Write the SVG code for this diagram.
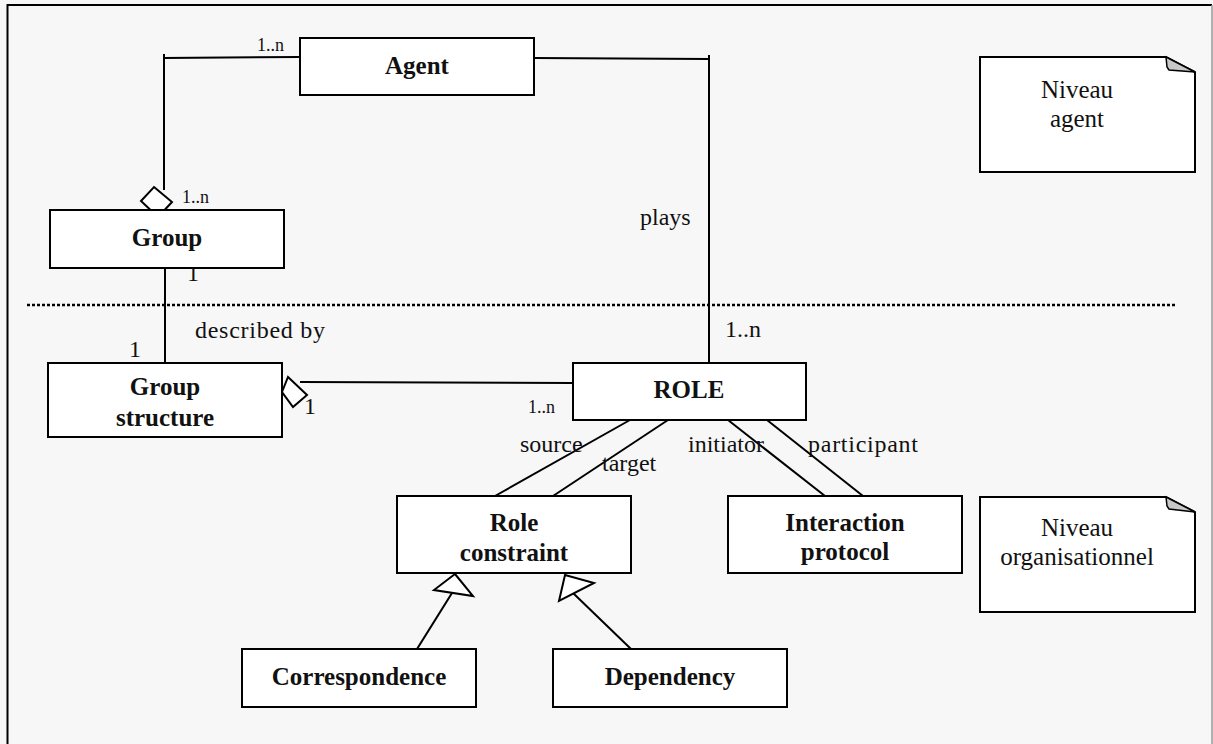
<svg xmlns="http://www.w3.org/2000/svg" width="1213" height="744" viewBox="0 0 1213 744">
<style>
text{font-family:"Liberation Serif","Times New Roman",Tinos,Times,"DejaVu Serif",serif;fill:#111}
.box{fill:#fff;stroke:#000;stroke-width:2}
.lbl{font-weight:bold;font-size:25px;text-anchor:middle}
.t{font-size:24px}
.s{font-size:18px}
.c{fill:none;stroke:#000;stroke-width:2}
.dia{fill:#fff;stroke:#000;stroke-width:2}
.fold{fill:#c8c8c8;stroke:#000;stroke-width:1.5}
.nt{font-size:25px;text-anchor:middle}
</style>
<rect x="0" y="0" width="1213" height="744" fill="#f7f7f7"/>
<path d="M7.5,750 V5 H1212" fill="none" stroke="#000" stroke-width="2"/>
<line x1="1212" y1="5" x2="1212" y2="744" stroke="#999" stroke-width="1.5"/>
<line x1="27" y1="305" x2="1176" y2="305" stroke="#000" stroke-width="2.5" stroke-dasharray="3 2"/>

<g id="connectors">
<polyline class="c" points="300,57 164,58 164,190"/>
<line class="c" x1="164" y1="54" x2="164" y2="60"/>
<polygon class="dia" points="154,187 172,202 158,217 141,201"/>
<line class="c" x1="165" y1="268" x2="165" y2="363"/>
<polyline class="c" points="534,58 709,59 709,363"/>
<line class="c" x1="709" y1="55" x2="709" y2="60"/>
<line class="c" x1="300" y1="382" x2="573" y2="383"/>
<polygon class="dia" points="282,392 288,377 307,395 293,407"/>
<line class="c" x1="630" y1="420" x2="495" y2="496"/>
<line class="c" x1="668" y1="420" x2="553" y2="496"/>
<line class="c" x1="728" y1="420" x2="825" y2="496"/>
<line class="c" x1="767" y1="420" x2="863" y2="496"/>
<line class="c" x1="452" y1="593" x2="417" y2="649"/>
<polygon class="dia" points="455,574 434,590 473,596"/>
<line class="c" x1="573" y1="593" x2="631" y2="649"/>
<polygon class="dia" points="565,575 594,583 559,601"/>
<text class="s" x="257" y="51">1..n</text>
<text class="s" x="182" y="203">1..n</text>
<text class="t" x="640" y="225">plays</text>
<text class="t" x="187" y="281">1</text>
<text class="t" x="195" y="338" textLength="130">described by</text>
<text class="t" x="129" y="357">1</text>
<text class="t" x="725" y="337">1..n</text>
<text class="t" x="304" y="414">1</text>
<text class="s" x="528" y="413">1..n</text>
<text class="t" x="520" y="452">source</text>
<text class="t" x="602" y="471">target</text>
<text class="t" x="688" y="452">initiator</text>
<text class="t" x="808" y="452" textLength="110">participant</text>
</g>

<g id="agent"><rect class="box" x="300" y="38" width="234" height="57"/><text class="lbl" x="417" y="74">Agent</text></g>
<g id="group"><rect class="box" x="50" y="210" width="234" height="58"/><text class="lbl" x="167" y="246">Group</text></g>
<g id="group-structure"><rect class="box" x="48" y="363" width="234" height="74"/><text class="lbl" x="165" y="395">Group</text><text class="lbl" x="165" y="426">structure</text></g>
<g id="role"><rect class="box" x="573" y="363" width="233" height="57"/><text class="lbl" x="689" y="398">ROLE</text></g>
<g id="role-constraint"><rect class="box" x="397" y="496" width="234" height="77"/><text class="lbl" x="514" y="531">Role</text><text class="lbl" x="514" y="561">constraint</text></g>
<g id="interaction-protocol"><rect class="box" x="728" y="496" width="234" height="77"/><text class="lbl" x="845" y="531">Interaction</text><text class="lbl" x="845" y="560">protocol</text></g>
<g id="correspondence"><rect class="box" x="242" y="649" width="234" height="58"/><text class="lbl" x="359" y="685">Correspondence</text></g>
<g id="dependency"><rect class="box" x="553" y="649" width="234" height="58"/><text class="lbl" x="670" y="685">Dependency</text></g>

<g id="note-agent">
<path d="M980,57 H1166 L1195,72 V172 H980 Z" fill="#fff" stroke="#000" stroke-width="2"/>
<polygon class="fold" points="1166,57 1195,72 1169,70 1167,67"/>
<text class="nt" x="1077" y="98">Niveau</text>
<text class="nt" x="1077" y="127">agent</text>
</g>
<g id="note-org">
<path d="M980,497 H1166 L1195,512 V612 H980 Z" fill="#fff" stroke="#000" stroke-width="2"/>
<polygon class="fold" points="1166,497 1195,512 1169,509 1167,506"/>
<text class="nt" x="1077" y="536">Niveau</text>
<text class="nt" x="1077" y="565">organisationnel</text>
</g>
</svg>
